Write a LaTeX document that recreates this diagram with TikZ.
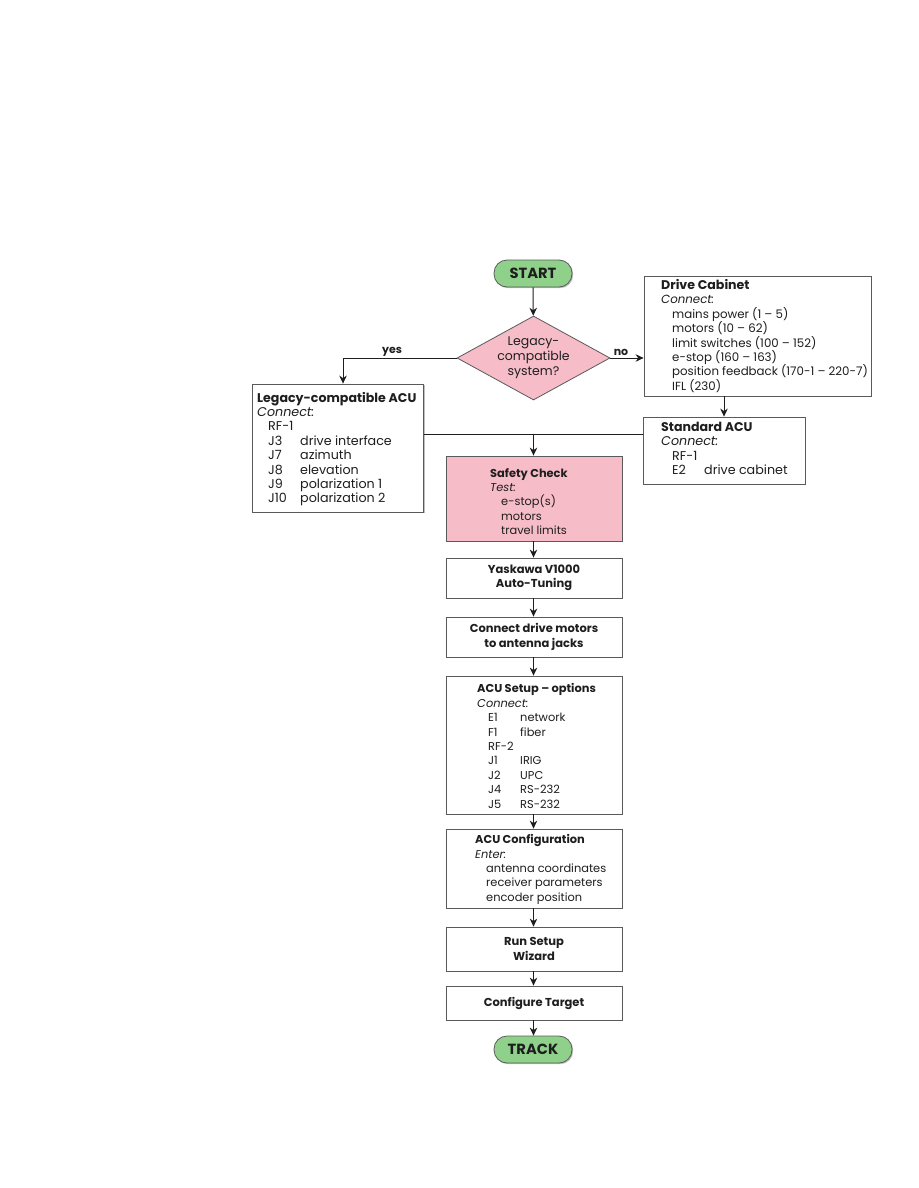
\documentclass[tikz,border=0pt]{standalone}
\usepackage{fontspec}
\setmainfont{Poppins}
\usetikzlibrary{shapes.geometric,arrows.meta,shadows}
\definecolor{pillgreen}{HTML}{8FD18A}
\definecolor{boxpink}{HTML}{F6BCC8}
\definecolor{edgegray}{HTML}{5A5A5A}
\definecolor{ink}{HTML}{1E1E1E}
\newcommand{\ind}{\hspace*{11pt}}
\newcommand{\jk}[1]{\makebox[32pt][l]{#1}}
\newcommand{\ttl}[1]{{\fontsize{12.6}{14.4}\selectfont\bfseries #1}}
\begin{document}
\begin{tikzpicture}[x=1pt,y=-1pt,
  box/.style={draw=edgegray,line width=0.8pt,fill=white,rectangle,inner sep=0pt,
    drop shadow={shadow xshift=1.2pt,shadow yshift=-1.2pt,fill=black!25,opacity=1},
    align=center,font=\fontsize{11.5}{14.4}\selectfont\bfseries,text=ink},
  pinkbox/.style={box,fill=boxpink},
  pill/.style={draw=edgegray,line width=0.8pt,fill=pillgreen,rounded corners=13pt,
    inner sep=0pt,minimum width=78pt,minimum height=27pt,
    drop shadow={shadow xshift=1.2pt,shadow yshift=-1.2pt,fill=black!25,opacity=1},
    font=\fontsize{14.7}{16}\selectfont\bfseries,text=ink},
  dia/.style={diamond,draw=edgegray,line width=0.8pt,fill=boxpink,inner sep=0pt,
    minimum width=153pt,minimum height=84pt},
  txt/.style={inner sep=0pt,align=left,font=\fontsize{11.4}{14.4}\selectfont,text=ink},
  txtD/.style={txt,font=\fontsize{11.8}{14.4}\selectfont},
  txtL/.style={txt,font=\fontsize{12.7}{14.4}\selectfont},
  lab/.style={inner sep=0pt,font=\fontsize{11}{12}\selectfont\bfseries,text=ink},
  line/.style={draw=ink,line width=1pt},
  arr/.style={line,-{Stealth[length=8pt,width=7.5pt,inset=2.5pt]}}
]
\useasboundingbox (0,0) rectangle (918,1188);

% nodes
\node[pill] (start) at (533,273.5) {START};
\node[dia] (q) at (533.5,358) {};
\node[txt,align=center,font=\fontsize{12.5}{15}\selectfont] (qt) at (533.5,358) {Legacy-\\compatible\\system?};

\node[box,minimum width=227pt,minimum height=120pt] (dc) at (757.5,336) {};
\node[txtD,anchor=west] (dct) at (661,336) {\ttl{Drive Cabinet}\\\textit{Connect:}\\\ind mains power (1 – 5)\\\ind motors (10 – 62)\\\ind limit switches (100 – 152)\\\ind e-stop (160 – 163)\\\ind position feedback (170-1 – 220-7)\\\ind IFL (230)};

\node[box,minimum width=162pt,minimum height=67pt] (std) at (724,450.5) {};
\node[txtL,anchor=west] (stdt) at (661,448.5) {\ttl{Standard ACU}\\\textit{Connect:}\\\ind RF-1\\\ind\jk{E2}drive cabinet};

\node[box,minimum width=171pt,minimum height=128pt] (leg) at (338,448) {};
\node[txtL,anchor=west] (legt) at (257,449) {\ttl{Legacy-compatible ACU}\\\textit{Connect:}\\\ind RF-1\\\ind\jk{J3}drive interface\\\ind\jk{J7}azimuth\\\ind\jk{J8}elevation\\\ind\jk{J9}polarization 1\\\ind\jk{J10}polarization 2};

\node[pinkbox,minimum width=176pt,minimum height=85pt] (safe) at (534,498.5) {};
\node[txt,anchor=west] (safet) at (490,501.5) {\textbf{Safety Check}\\\textit{Test:}\\\ind e-stop(s)\\\ind motors\\\ind travel limits};

\node[box,minimum width=176pt,minimum height=40pt] (yas) at (534,578) {Yaskawa V1000\\Auto-Tuning};
\node[box,minimum width=176pt,minimum height=40pt] (cdm) at (534,637) {Connect drive motors\\to antenna jacks};

\node[box,minimum width=176pt,minimum height=138pt] (setup) at (534,745) {};
\node[txt,anchor=west] (setupt) at (477,746) {\textbf{ACU Setup – options}\\\textit{Connect:}\\\ind\jk{E1}network\\\ind\jk{F1}fiber\\\ind RF-2\\\ind\jk{J1}IRIG\\\ind\jk{J2}UPC\\\ind\jk{J4}RS-232\\\ind\jk{J5}RS-232};

\node[box,minimum width=176pt,minimum height=79pt] (conf) at (534,868.5) {};
\node[txt,anchor=west] (conft) at (475,869.5) {\textbf{ACU Configuration}\\\textit{Enter:}\\\ind antenna coordinates\\\ind receiver parameters\\\ind encoder position};

\node[box,minimum width=176pt,minimum height=44pt] (wiz) at (534,949) {Run Setup\\Wizard};
\node[box,minimum width=176pt,minimum height=34pt] (tgt) at (534,1003) {Configure Target};
\node[pill] (track) at (533,1049.5) {TRACK};

% connectors
\draw[arr] (start) -- (q);
\draw[arr] (q.west) -| ([xshift=5pt]leg.north);
\node[lab] (yes) at (392,352) {yes};
\draw[arr] (q.east) -- (q.east -| dc.west);
\node[lab] (no) at (621,352) {no};
\draw[arr] (dc.south -| std.north) -- (std.north);
\coordinate (m) at (533.5,434);
\draw[line] (m -| leg.east) -- (m -| std.west);
\draw[arr] (m) -- (safe.north -| m);
\draw[arr] (safe.south -| m) -- (yas.north -| m);
\draw[arr] (yas.south -| m) -- (cdm.north -| m);
\draw[arr] (cdm.south -| m) -- (setup.north -| m);
\draw[arr] (setup.south -| m) -- (conf.north -| m);
\draw[arr] (conf.south -| m) -- (wiz.north -| m);
\draw[arr] (wiz.south -| m) -- (tgt.north -| m);
\draw[arr] (tgt.south -| m) -- (track.north -| m);
\end{tikzpicture}
\end{document}
